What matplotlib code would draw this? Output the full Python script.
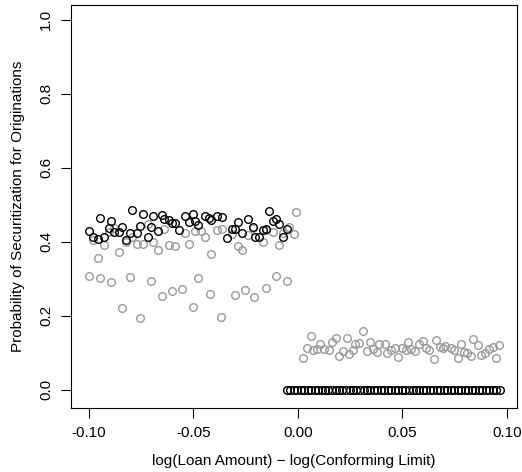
import matplotlib
matplotlib.use("Agg")
import matplotlib.pyplot as plt

plt.rcParams['font.family'] = ['Liberation Sans', 'DejaVu Sans']

black_x = [-0.0998,-0.0982,-0.0958,-0.0946,-0.0928,-0.0904,-0.0893,-0.0879,-0.0855,-0.0841,-0.0823,-0.0802,-0.0796,-0.0772,-0.0758,-0.0742,-0.0719,-0.0705,-0.0692,-0.0671,-0.0652,-0.0640,-0.0619,-0.0604,-0.0587,-0.0569,-0.0540,-0.0520,-0.0502,-0.0493,-0.0478,-0.0443,-0.0424,-0.0416,-0.0389,-0.0362,-0.0341,-0.0317,-0.0303,-0.0288,-0.0268,-0.0238,-0.0217,-0.0206,-0.0187,-0.0169,-0.0153,-0.0140,-0.0120,-0.0104,-0.0090,-0.0072,-0.0052]
black_y = [0.429,0.414,0.408,0.465,0.414,0.438,0.455,0.427,0.427,0.441,0.405,0.423,0.486,0.425,0.444,0.475,0.412,0.439,0.471,0.429,0.472,0.461,0.458,0.450,0.450,0.432,0.470,0.453,0.474,0.457,0.446,0.471,0.464,0.460,0.471,0.468,0.411,0.435,0.435,0.453,0.423,0.461,0.440,0.414,0.412,0.433,0.435,0.483,0.457,0.463,0.448,0.412,0.436]

gray_up_x = [-0.0982,-0.0928,-0.0904,-0.0879,-0.0823,-0.0796,-0.0772,-0.0742,-0.0719,-0.0692,-0.0671,-0.0640,-0.0619,-0.0587,-0.0540,-0.0520,-0.0493,-0.0464,-0.0443,-0.0416,-0.0389,-0.0362,-0.0317,-0.0288,-0.0268,-0.0238,-0.0217,-0.0169,-0.0153,-0.0120,-0.0090,-0.0072,-0.0043,-0.0019,-0.0010,-0.0958,-0.0855]
gray_up_y = [0.405,0.391,0.426,0.437,0.399,0.412,0.395,0.395,0.448,0.400,0.378,0.434,0.391,0.389,0.423,0.395,0.429,0.429,0.414,0.367,0.431,0.434,0.421,0.390,0.377,0.418,0.437,0.399,0.431,0.426,0.392,0.425,0.441,0.422,0.480,0.355,0.372]

gray_low_x = [-0.0998,-0.0946,-0.0893,-0.0841,-0.0802,-0.0758,-0.0705,-0.0652,-0.0603,-0.0556,-0.0502,-0.0478,-0.0421,-0.0369,-0.0303,-0.0254,-0.0209,-0.0152,-0.0104,-0.0053]
gray_low_y = [0.309,0.302,0.291,0.220,0.306,0.193,0.295,0.254,0.268,0.272,0.223,0.303,0.258,0.196,0.256,0.270,0.250,0.276,0.308,0.293]

right_x = [0.0026,0.0045,0.0064,0.0073,0.0089,0.0107,0.0124,0.0147,0.0163,0.0182,0.0195,0.0214,0.0233,0.0246,0.0262,0.0274,0.0290,0.0309,0.0329,0.0344,0.0359,0.0378,0.0389,0.0418,0.0424,0.0443,0.0464,0.0480,0.0499,0.0515,0.0528,0.0542,0.0558,0.0581,0.0598,0.0611,0.0628,0.0649,0.0660,0.0679,0.0692,0.0705,0.0730,0.0746,0.0764,0.0780,0.0793,0.0810,0.0829,0.0839,0.0861,0.0877,0.0896,0.0912,0.0931,0.0946,0.0963]
right_y = [0.087,0.112,0.146,0.107,0.111,0.123,0.111,0.107,0.129,0.140,0.091,0.105,0.140,0.096,0.109,0.125,0.127,0.160,0.106,0.129,0.111,0.102,0.123,0.125,0.099,0.109,0.114,0.090,0.114,0.107,0.129,0.111,0.105,0.125,0.132,0.114,0.107,0.084,0.135,0.116,0.114,0.118,0.114,0.107,0.086,0.123,0.102,0.100,0.091,0.137,0.122,0.095,0.100,0.111,0.116,0.085,0.120]

zero_x = [-0.0054,-0.0037,-0.0021,-0.0004,0.0013,0.0029,0.0046,0.0063,0.0080,0.0096,0.0113,0.0130,0.0146,0.0163,0.0180,0.0197,0.0213,0.0230,0.0247,0.0263,0.0280,0.0297,0.0314,0.0330,0.0347,0.0364,0.0380,0.0397,0.0414,0.0431,0.0447,0.0464,0.0481,0.0497,0.0514,0.0531,0.0548,0.0564,0.0581,0.0598,0.0614,0.0631,0.0648,0.0665,0.0681,0.0698,0.0715,0.0731,0.0748,0.0765,0.0782,0.0798,0.0815,0.0832,0.0848,0.0865,0.0882,0.0899,0.0915,0.0932,0.0949,0.0966]
zero_y = [0.0] * len(zero_x)

fig = plt.figure(figsize=(5.22, 4.72), dpi=100)
ax = fig.add_axes([71/522, 1-408/472, 446/522, 403/472])
kw = dict(marker='o', linestyle='none', markersize=5.5, markerfacecolor='none', markeredgewidth=1.0)
ax.plot(gray_up_x, gray_up_y, markeredgecolor='#999999', **kw)
ax.plot(gray_low_x, gray_low_y, markeredgecolor='#999999', **kw)
ax.plot(right_x, right_y, markeredgecolor='#999999', **kw)
ax.plot(black_x, black_y, markeredgecolor='black', **kw)
ax.plot(zero_x, zero_y, markeredgecolor='black', **kw)

ax.set_xlim(-0.1086, 0.1048)
ax.set_ylim(-0.049, 1.04)
ax.set_xticks([-0.10, -0.05, 0.00, 0.05, 0.10])
ax.set_xticklabels(['-0.10', '-0.05', '0.00', '0.05', '0.10'])
ax.set_yticks([0.0, 0.2, 0.4, 0.6, 0.8, 1.0])
ax.set_yticklabels(['0.0', '0.2', '0.4', '0.6', '0.8', '1.0'], rotation=90, va='center')
ax.tick_params(direction='out', length=7, labelsize=11, pad=6)
ax.set_xlabel('log(Loan Amount) \u2212 log(Conforming Limit)', fontsize=11, labelpad=10)
ax.set_ylabel('Probability of Securitization for Originations', fontsize=11, labelpad=10)
fig.savefig('out.png', dpi=100)
